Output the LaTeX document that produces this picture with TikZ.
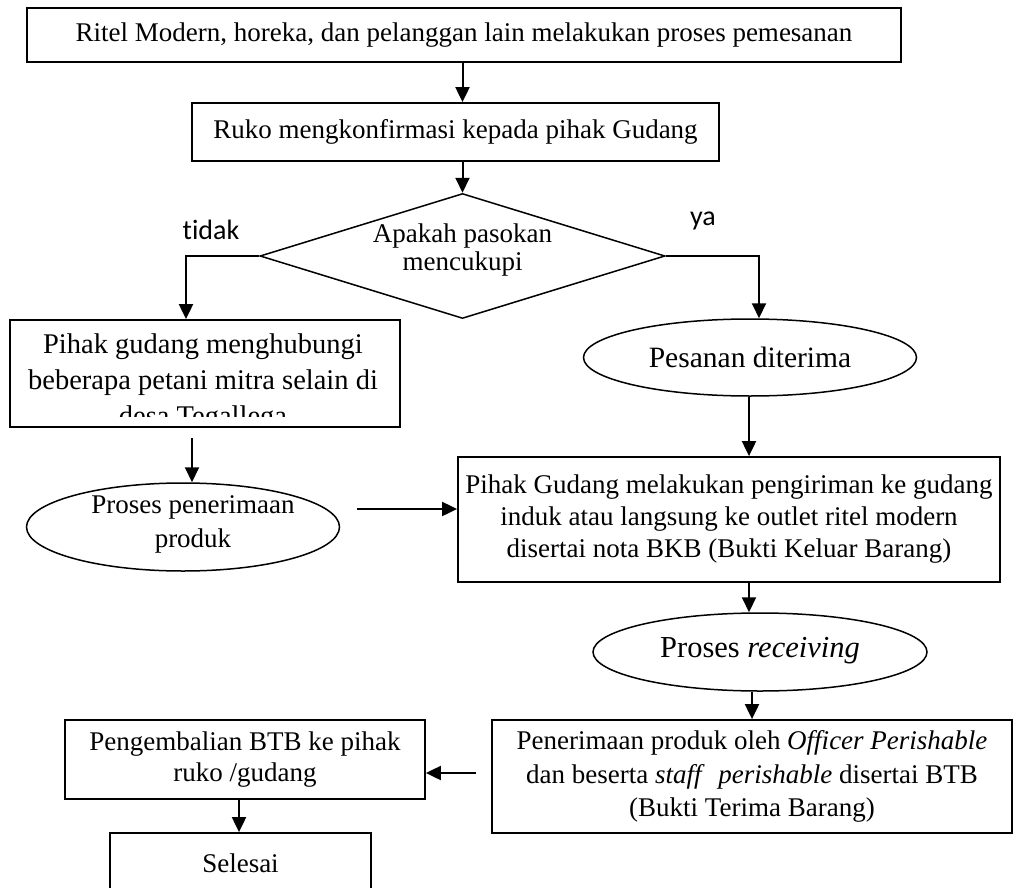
\documentclass[tikz,border=0pt]{standalone}
\usepackage{fontspec}
\setmainfont{Liberation Serif}
\newfontfamily\calibri[Ligatures=NoCommon]{Carlito}
\usetikzlibrary{shapes.geometric,arrows.meta}
\begin{document}
\begin{tikzpicture}[x=1pt,y=-1pt,
  box/.style={draw, line width=1.8pt, rectangle, inner sep=0pt, align=center, font=\fontsize{27}{33}\selectfont},
  oval/.style={draw, line width=1.5pt, ellipse, inner sep=0pt},
  ovaltext/.style={inner sep=0pt, align=center, font=\fontsize{27}{34}\selectfont},
  arr/.style={line width=2pt, -{Triangle[length=15pt,width=14pt]}},
  lbl/.style={font=\calibri\fontsize{28}{34}\selectfont, inner sep=0pt}
]
\useasboundingbox (0,0) rectangle (1030,888);
\fill[white] (0,0) rectangle (1030,888);

\node[box, minimum width=874pt, minimum height=54pt] (n1) at (464,35) {Ritel Modern, horeka, dan pelanggan lain melakukan proses pemesanan};
\node[box, minimum width=527pt, minimum height=58pt] (n2) at (455.5,132) {Ruko mengkonfirmasi kepada pihak Gudang};
\node[draw, diamond, line width=1.5pt, shape aspect=3.24, minimum width=405pt, minimum height=125pt, inner sep=0pt] (d) at (462.5,256) {};
\node[inner sep=0pt, align=center, font=\fontsize{27}{28}\selectfont] (dt) at (462.5,250) {Apakah pasokan\\mencukupi};

\node[lbl] (tidak) at (211,230) {tidak};
\node[lbl] (ya) at (703,221) {ya};

% left box with clipped text
\node[box, minimum width=390pt, minimum height=107pt] (L) at (205,373.5) {};
\begin{scope}
\clip (10,320) rectangle (400,416);
\node[anchor=north, inner sep=0pt, align=center, font=\fontsize{28.5}{36}\selectfont] (Lt) at (203,334) {Pihak gudang menghubungi\\beberapa petani mitra selain di\\desa Tegallega};
\end{scope}

\node[oval, minimum width=313pt, minimum height=88pt] (e1) at (183,527) {};
\node[ovaltext] (e1t) at (193,524) {Proses penerimaan\\produk};

\node[oval, minimum width=333pt, minimum height=77pt] (pes) at (750,357.5) {};
\node[ovaltext, font=\fontsize{29.5}{34}\selectfont] (pest) at (750,357) {Pesanan diterima};

\node[box, minimum width=542pt, minimum height=125pt, font=\fontsize{27}{32}\selectfont] (B) at (729,519.5) {Pihak Gudang melakukan pengiriman ke gudang\\induk atau langsung ke outlet ritel modern\\disertai nota BKB (Bukti Keluar Barang)};

\node[oval, minimum width=334pt, minimum height=78pt] (rec) at (760,652) {};
\node[ovaltext, font=\fontsize{30.5}{34}\selectfont] (rect) at (760,651) {Proses \textit{receiving}};

\node[box, minimum width=520pt, minimum height=113pt, font=\fontsize{27}{33.5}\selectfont] (P) at (752,776.5) {Penerimaan produk oleh \textit{Officer Perishable}\\dan beserta \textit{staff}\ \ \textit{perishable} disertai BTB\\(Bukti Terima Barang)};

\node[box, minimum width=360pt, minimum height=79pt, font=\fontsize{27}{31}\selectfont] (R) at (245,759.5) {Pengembalian BTB ke pihak\\ruko /gudang};

\node[box, minimum width=261pt, minimum height=70pt] (S) at (240.5,868) {\raisebox{9pt}{Selesai}};

% connectors
\draw[arr] (n1.south -| d.north) -- (n2.north -| d.north);
\draw[arr] (n2.south -| d.north) -- (d.north);
\draw[arr] (d.west) -| ([xshift=-19pt]L.north);
\draw[arr] (d.east) -| ([xshift=9pt]pes.north);
\coordinate (lg) at (192,438);
\draw[arr] (lg) -- (lg |- e1.north);
\coordinate (eg) at (357,509);
\draw[arr] (eg) -- (eg -| B.west);
\draw[arr] ([xshift=-1pt]pes.south) -- ([xshift=-1pt]pes.south |- B.north);
\draw[arr] ([xshift=20pt]B.south) -- ([xshift=20pt]B.south |- rec.north);
\draw[arr] ([xshift=-8pt]rec.south) -- ([xshift=-8pt]rec.south |- P.north);
\coordinate (pg) at (476,773);
\draw[arr] (pg) -- (pg -| R.east);
\draw[arr] ([xshift=-6pt]R.south) -- ([xshift=-6pt]R.south |- S.north);
\end{tikzpicture}
\end{document}
